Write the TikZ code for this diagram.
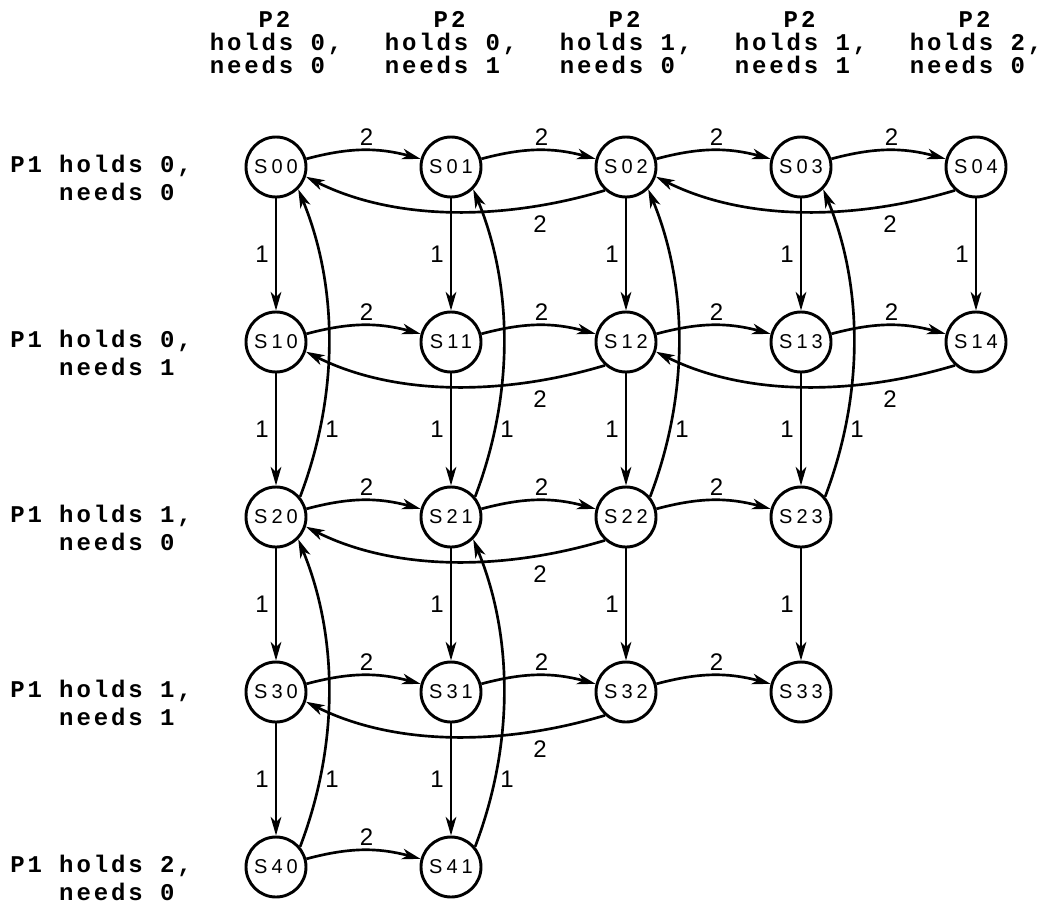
\documentclass[tikz,border=0pt]{standalone}
\usepackage{fontspec}
\setmainfont{Liberation Sans}
\newfontfamily\lblfont[LetterSpace=12]{Liberation Mono}
\newfontfamily\statefont[LetterSpace=20]{Liberation Sans}
\usetikzlibrary{arrows.meta,calc}
\begin{document}
\begin{tikzpicture}[x=0.75pt,y=0.75pt,
  state/.style={circle,draw,line width=2.2pt,minimum size=45pt,inner sep=0pt,
    font=\statefont\fontsize{15}{16}\selectfont},
  edge/.style={line width=2pt,-{Stealth[length=14pt,width=8pt,inset=4pt]}},
  elbl/.style={font=\fontsize{18}{19}\selectfont,inner sep=0pt},
  hdr/.style={font=\lblfont\bfseries\fontsize{18}{17.25}\selectfont,align=left,anchor=north,inner sep=0pt},
  rowlbl/.style={font=\lblfont\bfseries\fontsize{18}{21}\selectfont,align=left,anchor=north west,inner sep=0pt}]
\useasboundingbox (0,0) rectangle (1050,-907);
% states
\foreach \r/\cmax in {0/4,1/4,2/3,3/3,4/1}{
  \foreach \c in {0,...,\cmax}{
    \node[state] (S\r\c) at ({276+175*\c},{-167-175*\r}) {S\r\c};
  }
}
% column headers
\foreach \c/\h/\n in {0/0/0,1/0/1,2/1/0,3/1/1,4/2/0}{
  \node[hdr] (H\c) at ({276+175*\c},-11) {\hphantom{hol}P2\\holds \h,\\needs \n};
}
% row labels
\foreach \r/\h/\n in {0/0/0,1/0/1,2/1/0,3/1/1,4/2/0}{
  \node[rowlbl] (R\r) at (10,{-155-175*\r}) {P1 holds \h,\\\hphantom{P1 }needs \n};
}
% forward horizontal (P2 requests)
\foreach \r/\c in {0/0,0/1,0/2,0/3,1/0,1/1,1/2,1/3,2/0,2/1,2/2,3/0,3/1,3/2,4/0}{
  \pgfmathtruncatemacro\n{\c+1}
  \draw[edge] (S\r\c) to[bend left=15] (S\r\n);
  \node[elbl] (a\r\c) at ($(S\r\c)!0.5!(S\r\n)+(3,30)$) {2};
}
% backward horizontal
\foreach \r/\c in {0/0,0/2,1/0,1/2,2/0,3/0}{
  \pgfmathtruncatemacro\m{\c+2}
  \draw[edge] (S\r\m.228) .. controls +(-100,-30) and +(90,-45) .. (S\r\c.-18);
  \node[elbl] (b\r\c) at ($(S\r\c)+(264,-57)$) {2};
}
% forward vertical (P1 requests)
\foreach \r/\c in {0/0,1/0,2/0,3/0,0/1,1/1,2/1,3/1,0/2,1/2,2/2,0/3,1/3,2/3,0/4}{
  \pgfmathtruncatemacro\n{\r+1}
  \draw[edge] (S\r\c) -- (S\n\c);
  \node[elbl] (v\r\c) at ($(S\r\c)!0.5!(S\n\c)+(-14,0)$) {1};
}
% backward vertical
\foreach \r/\c in {0/0,2/0,0/1,2/1,0/2,0/3}{
  \pgfmathtruncatemacro\m{\r+2}
  \draw[edge] (S\m\c.40) .. controls +(41,108) and +(38,-92) .. (S\r\c.-45);
  \node[elbl] (w\r\c) at ($(S\m\c)+(56,88)$) {1};
}
\end{tikzpicture}
\end{document}
